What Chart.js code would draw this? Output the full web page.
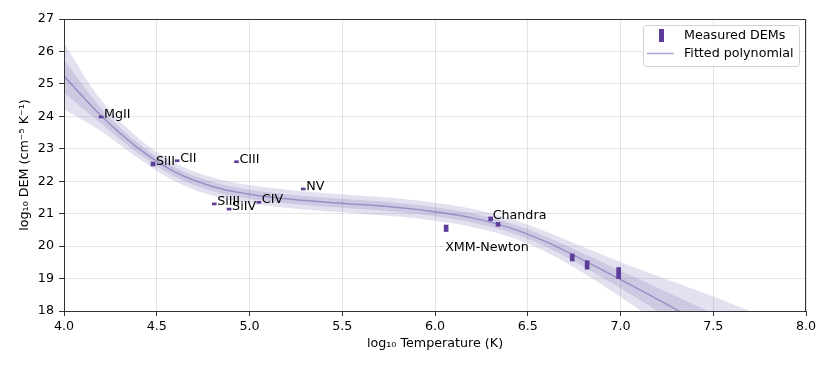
<!DOCTYPE html>
<html>
<head>
<meta charset="utf-8">
<script src="https://cdn.jsdelivr.net/npm/chart.js@4.4.1/dist/chart.umd.min.js"></script>
<style>
  html, body { margin: 0; padding: 0; background: #fff; }
  #wrap { width: 830px; height: 369px; }
</style>
</head>
<body>
<div id="wrap"><canvas id="chart"></canvas></div>
<script>
// Measured DEMs (UV lines, then X-ray)
const lineNames = ['MgII', 'SiII', 'CII', 'CIII', 'SiIII', 'SiIV', 'CIV', 'NV', 'XMM-Newton', 'Chandra', '', '', '', ''];
const measTemp  = [4.20, 4.48, 4.61, 4.93, 4.81, 4.89, 5.05, 5.29, 6.06, 6.30, 6.34, 6.74, 6.82, 6.99];
const measDem   = [23.98, 22.53, 22.63, 22.60, 21.30, 21.14, 21.35, 21.76, 20.55, 20.84, 20.67, 19.65, 19.42, 19.17];
const measErr   = [0.03, 0.06, 0.03, 0.03, 0.03, 0.03, 0.03, 0.03, 0.10, 0.06, 0.06, 0.11, 0.13, 0.17];

// Fitted polynomial and its 1-sigma width
const fitTemp  = [4.0, 4.2, 4.4, 4.6, 4.8, 5.0, 5.2, 5.4, 5.6, 5.8, 6.0, 6.2, 6.4, 6.6, 6.8, 7.0, 7.2, 7.4, 7.6, 7.8, 8.0];
const fitDem   = [25.24, 24.02, 23.02, 22.28, 21.84, 21.60, 21.46, 21.36, 21.28, 21.19, 21.06, 20.87, 20.57, 20.13, 19.57, 18.97, 18.36, 17.72, 17.02, 16.22, 15.32];
const fitSigma = [0.51, 0.24, 0.155, 0.14, 0.14, 0.14, 0.14, 0.14, 0.14, 0.14, 0.14, 0.14, 0.14, 0.155, 0.20, 0.27, 0.36, 0.47, 0.60, 0.76, 0.95];

const FONT = { family: 'DejaVu Sans', size: 12.7 };
const PURPLE = '#5e3c99';
const BAND = 'rgba(117,107,177,0.2)';
const FITLINE = 'rgba(117,107,177,0.6)';

function band(k) {
    return fitTemp.map((t, i) => ({ x: t, y: fitDem[i] + k * fitSigma[i] }));
}

// top and right spines
const boxPlugin = {
    id: 'box',
    afterDraw(chart) {
        const { ctx, chartArea: a } = chart;
        ctx.save();
        ctx.strokeStyle = '#333';
        ctx.lineWidth = 1;
        ctx.strokeRect(a.left + 0.5, a.top + 0.5, a.right - a.left - 1, a.bottom - a.top);
        ctx.restore();
    }
};

// point labels next to the measurements
const labelPlugin = {
    id: 'pointLabels',
    afterDatasetsDraw(chart, args, opts) {
        const { ctx, scales } = chart;
        ctx.save();
        ctx.font = `${FONT.size}px ${FONT.family}`;
        ctx.fillStyle = '#000';
        ctx.textBaseline = 'alphabetic';
        lineNames.forEach((name, i) => {
            if (!name) return;
            const off = opts.offsets[name] || [3, 1];
            const x = scales.x.getPixelForValue(measTemp[i]) + off[0];
            const y = scales.y.getPixelForValue(measDem[i]) + off[1];
            ctx.fillText(name, x, y);
        });
        ctx.restore();
    }
};

// matplotlib-like legend box in the upper right
const legendPlugin = {
    id: 'boxLegend',
    afterDraw(chart) {
        const { ctx, chartArea: a } = chart;
        const w = 156, h = 41;
        const left = a.right - 7 - w, top = a.top + 6;
        ctx.save();
        ctx.beginPath();
        ctx.roundRect(left + 0.5, top + 0.5, w, h, 3);
        ctx.fillStyle = 'rgba(255,255,255,0.85)';
        ctx.fill();
        ctx.strokeStyle = '#d0d0d0';
        ctx.lineWidth = 1;
        ctx.stroke();

        ctx.fillStyle = PURPLE;
        ctx.fillRect(left + 16, top + 4, 5, 13);
        ctx.strokeStyle = FITLINE;
        ctx.lineWidth = 1.5;
        ctx.beginPath();
        ctx.moveTo(left + 4, top + 28.5);
        ctx.lineTo(left + 31, top + 28.5);
        ctx.stroke();

        ctx.fillStyle = '#000';
        ctx.font = `${FONT.size}px ${FONT.family}`;
        ctx.textBaseline = 'middle';
        ctx.fillText(chart.data.datasets[0].label, left + 41, top + 11);
        ctx.fillText(chart.data.datasets[1].label, left + 41, top + 29);
        ctx.restore();
    }
};

const curve = { borderWidth: 0, pointRadius: 0, tension: 0.4 };

new Chart(document.getElementById('chart'), {
    type: 'line',
    data: {
        datasets: [{
            type: 'bar',
            label: 'Measured DEMs',
            data: measTemp.map((t, i) => ({ x: t, y: [measDem[i] - measErr[i], measDem[i] + measErr[i]] })),
            backgroundColor: PURPLE,
            borderWidth: 0,
            barThickness: 4,
            minBarLength: 2,
            grouped: false,
            order: 0
        }, {
            label: 'Fitted polynomial',
            data: band(0),
            ...curve,
            borderColor: FITLINE,
            borderWidth: 1.5,
            fill: false,
            order: 1
        }, {
            label: 'outer high',
            data: band(2),
            ...curve,
            backgroundColor: BAND,
            fill: '+1',
            order: 5
        }, {
            label: 'outer low',
            data: band(-2),
            ...curve,
            fill: false,
            order: 5
        }, {
            label: 'inner high',
            data: band(1),
            ...curve,
            backgroundColor: BAND,
            fill: '+1',
            order: 4
        }, {
            label: 'inner low',
            data: band(-1),
            ...curve,
            fill: false,
            order: 4
        }]
    },
    options: {
        responsive: true,
        maintainAspectRatio: false,
        animation: false,
        layout: { padding: { top: 19, right: 24, left: 0, bottom: 0 } },
        plugins: {
            legend: { display: false },
            tooltip: { enabled: false },
            pointLabels: { offsets: { 'XMM-Newton': [-1, 23], 'Chandra': [2, 0] } }
        },
        scales: {
            x: {
                type: 'linear',
                min: 4,
                max: 8,
                offset: false,
                ticks: {
                    stepSize: 0.5,
                    callback: v => v.toFixed(1),
                    font: FONT,
                    color: '#000',
                    padding: 3,
                    maxRotation: 0,
                    autoSkip: false
                },
                grid: { color: 'rgba(0,0,0,0.1)', tickColor: '#333', tickLength: 5, offset: false },
                border: { color: '#333' },
                title: {
                    display: true,
                    text: 'log₁₀ Temperature (K)',
                    font: FONT,
                    color: '#000',
                    padding: { top: 0, bottom: 18 }
                },
                afterFit: s => { s.height = 58; }
            },
            y: {
                type: 'linear',
                min: 18,
                max: 27,
                ticks: {
                    stepSize: 1,
                    font: FONT,
                    color: '#000',
                    padding: 5
                },
                grid: { color: 'rgba(0,0,0,0.1)', tickColor: '#333', tickLength: 5 },
                border: { color: '#333' },
                title: {
                    display: true,
                    text: 'log₁₀ DEM (cm⁻⁵ K⁻¹)',
                    font: FONT,
                    color: '#000',
                    padding: { top: 17, bottom: 0 }
                },
                afterFit: s => { s.width = 64; }
            }
        }
    },
    plugins: [boxPlugin, labelPlugin, legendPlugin]
});
</script>
</body>
</html>
